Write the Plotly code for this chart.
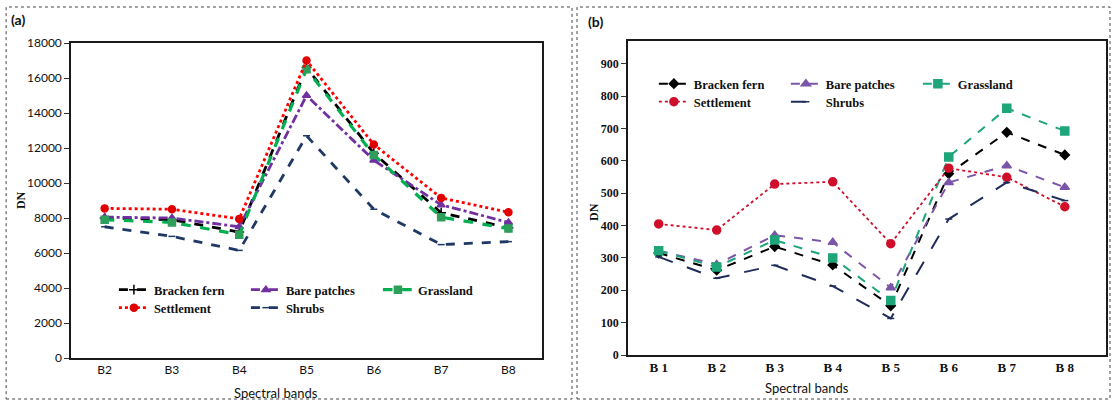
import plotly.graph_objects as go

# ---------------- data ----------------
bands_a = ["B2", "B3", "B4", "B5", "B6", "B7", "B8"]
bracken_a = [8000, 7900, 7200, 16600, 11700, 8300, 7450]
bare_a = [8050, 8000, 7500, 15000, 11300, 8750, 7750]
grass_a = [7900, 7750, 7050, 16500, 11600, 8050, 7400]
settle_a = [8550, 8500, 7950, 17000, 12200, 9150, 8330]
shrubs_a = [7500, 6950, 6150, 12700, 8500, 6480, 6650]

bands_b = ["B 1", "B 2", "B 3", "B 4", "B 5", "B 6", "B 7", "B 8"]
bracken_b = [315, 262, 335, 278, 152, 560, 688, 618]
bare_b = [322, 280, 370, 348, 208, 533, 585, 518]
grass_b = [322, 272, 355, 300, 168, 612, 762, 692]
settle_b = [405, 386, 528, 535, 344, 577, 549, 458]
shrubs_b = [303, 237, 277, 213, 113, 420, 533, 477]

names = ["Bracken fern", "Bare patches", "Grassland", "Settlement", "Shrubs"]

# ---------------- geometry helpers ----------------
W, H = 1113, 403
ML, MR, MT, MB = 71, 5, 41, 45
PW = W - ML - MR
PH = H - MT - MB


def px(x):
    return (x - ML) / PW


def py(y):
    return (H - MB - y) / PH


SERIF = "Liberation Serif"
SANS = "Lato"

fig = go.Figure()

style_a = [
    dict(color="#000000", dash="dash", width=2.8, symbol="cross-thin", msize=7, mcolor="#000000"),
    dict(color="#7030A0", dash="dashdot", width=2.8, symbol="triangle-up", msize=7, mcolor="#7030A0"),
    dict(color="#00B050", dash="dash", width=3.2, symbol="square", msize=7, mcolor="#2E9E5B"),
    dict(color="#FF0000", dash="dot", width=2.8, symbol="circle", msize=7, mcolor="#E00000"),
    dict(color="#1F3864", dash="dash", width=2.8, symbol="line-ew", msize=5, mcolor="#1F3864"),
]
style_b = [
    dict(color="#000000", dash="dash", width=2, symbol="diamond", msize=7, mcolor="#000000"),
    dict(color="#7B55A8", dash="dash", width=2, symbol="triangle-up", msize=8, mcolor="#7B55A8"),
    dict(color="#1FA57A", dash="dash", width=2, symbol="square", msize=8, mcolor="#1FA57A"),
    dict(color="#D0102B", dash="dot", width=1.8, symbol="circle", msize=8, mcolor="#D0102B"),
    dict(color="#1F2D5A", dash="longdash", width=2, symbol="line-ew", msize=5, mcolor="#1F2D5A"),
]

series_a = [bracken_a, bare_a, grass_a, settle_a, shrubs_a]
series_b = [bracken_b, bare_b, grass_b, settle_b, shrubs_b]

leg_a = ["legend", "legend", "legend", "legend2", "legend2"]
leg_b = ["legend3", "legend3", "legend3", "legend4", "legend4"]

for i, (nm, vals, st) in enumerate(zip(names, series_a, style_a)):
    fig.add_trace(go.Scatter(
        x=bands_a, y=vals, name=nm, mode="lines+markers",
        line=dict(color=st["color"], dash=st["dash"], width=st["width"]),
        marker=dict(symbol=st["symbol"], size=st["msize"], color=st["mcolor"],
                    line=dict(color=st["mcolor"], width=1.5)),
        xaxis="x", yaxis="y", legend=leg_a[i],
    ))

for i, (nm, vals, st) in enumerate(zip(names, series_b, style_b)):
    fig.add_trace(go.Scatter(
        x=bands_b, y=vals, name=nm, mode="lines+markers",
        line=dict(color=st["color"], dash=st["dash"], width=st["width"]),
        marker=dict(symbol=st["symbol"], size=st["msize"], color=st["mcolor"],
                    line=dict(color=st["mcolor"], width=1.5)),
        xaxis="x2", yaxis="y2", legend=leg_b[i],
    ))

axis_common = dict(showline=True, linecolor="#1a1a1a", linewidth=1.5, mirror=True,
                   showgrid=False, zeroline=False)

legend_common = dict(orientation="h", bgcolor="rgba(0,0,0,0)", entrywidth=87,
                     entrywidthmode="pixels", xanchor="left", yanchor="middle",
                     font=dict(family=SERIF, size=12.5, color="#111111", weight="bold"),
                     itemwidth=30, tracegroupgap=0)

fig.update_layout(
    width=W, height=H,
    margin=dict(l=ML, r=MR, t=MT, b=MB),
    paper_bgcolor="white", plot_bgcolor="white",
    font=dict(family=SERIF, color="#111111"),
    xaxis=dict(domain=[0, px(543)], range=[-0.5, 6.5], anchor="y",
               tickfont=dict(family=SANS, size=12, color="#111111"),
               ticks="", **axis_common),
    yaxis=dict(domain=[0, py(43)], range=[0, 18000], dtick=2000, tickformat="d",
               anchor="x", ticks="outside", ticklen=5, tickcolor="#333333",
               tickfont=dict(family=SANS, size=12, color="#111111"), **axis_common),
    xaxis2=dict(domain=[px(629), 1], range=[-0.53, 7.71], anchor="y2",
                tickfont=dict(family=SERIF, size=13, color="#111111", weight="bold"),
                ticks="", **axis_common),
    yaxis2=dict(domain=[py(355), py(41)], range=[0, 970], dtick=100,
                anchor="x2", ticks="outside", ticklen=5, tickcolor="#333333",
                tickfont=dict(family=SERIF, size=12, color="#111111", weight="bold"),
                **axis_common),
    legend=dict(x=px(114), y=py(290), **legend_common),
    legend2=dict(x=px(114), y=py(308), **legend_common),
    legend3=dict(x=px(655), y=py(84), **legend_common),
    legend4=dict(x=px(655), y=py(102), **legend_common),
    showlegend=True,
)

# panel labels and axis titles
ann = [
    dict(text="<b>(a)</b>", x=px(18), y=py(20), font=dict(family=SANS, size=14, color="#111111")),
    dict(text="<b>(b)</b>", x=px(597), y=py(22), font=dict(family=SANS, size=14, color="#111111")),
    dict(text="<b>DN</b>", x=px(21), y=py(200), textangle=-90,
         font=dict(family=SERIF, size=12, color="#111111")),
    dict(text="<b>DN</b>", x=px(595), y=py(212), textangle=-90,
         font=dict(family=SERIF, size=12, color="#111111")),
    dict(text="Spectral bands", x=px(276), y=py(393),
         font=dict(family=SANS, size=13, color="#111111")),
    dict(text="Spectral bands", x=px(808), y=py(388),
         font=dict(family=SANS, size=13, color="#111111")),
]
for a in ann:
    fig.add_annotation(xref="paper", yref="paper", showarrow=False,
                       xanchor="center", yanchor="middle", **a)

# dashed panel borders
for x0, x1 in [(6, 573), (578, 1112)]:
    fig.add_shape(type="rect", xref="paper", yref="paper",
                  x0=px(x0), x1=px(x1), y0=py(399), y1=py(7),
                  line=dict(color="#444444", width=1, dash="3px,3px"),
                  fillcolor="rgba(0,0,0,0)", layer="below")

fig.write_html("out.html")
